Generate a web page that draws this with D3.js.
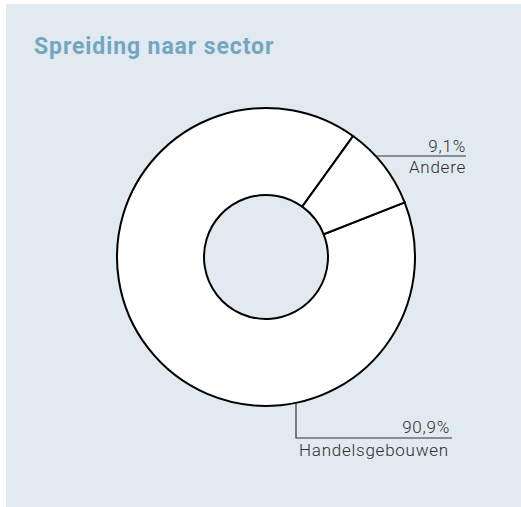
<!DOCTYPE html>
<html>
<head>
  <meta charset="utf-8">
  <script src="https://cdnjs.cloudflare.com/ajax/libs/d3/7.8.5/d3.min.js"></script>
</head>
<style media="screen">
  body { margin: 0; background: #fff; overflow: hidden; }
  svg { display: block; }
  .title { font: 700 23px Roboto, sans-serif; fill: #74a6c0; letter-spacing: 0.9px; }
  .lbl { font: 300 17px Roboto, sans-serif; fill: #2e2e2e; letter-spacing: 0.75px; }
  .slice { fill: #fff; stroke: #000; stroke-width: 2px; }
  .leader { fill: none; stroke: #333; stroke-width: 1.2px; }
</style>
<body>
<script type="text/javascript">
// data
var sectors = ["Handelsgebouwen", "Andere"];
var shares = [90.9, 9.1];
var shareLabels = ["90,9%", "9,1%"];

var W = 521, H = 507;
var cx = 266, cy = 257, rOuter = 149, rInner = 62;
var start = 68.5 * Math.PI / 180;

var svg = d3.select("body").append("svg")
    .attr("width", W)
    .attr("height", H);

// panel
svg.append("rect")
    .attr("x", 6).attr("y", 4)
    .attr("width", W - 6).attr("height", H - 4)
    .attr("fill", "#e1eaf0");

svg.append("text")
    .attr("class", "title")
    .attr("x", 34).attr("y", 54)
    .text("Spreiding naar sector");

var pie = d3.pie().sort(null)
    .startAngle(start).endAngle(start + 2 * Math.PI);
var arcs = pie(shares);

var arc = d3.arc().innerRadius(rInner).outerRadius(rOuter);

var g = svg.append("g")
    .attr("transform", "translate(" + cx + "," + cy + ")");

g.selectAll("path")
    .data(arcs)
  .enter().append("path")
    .attr("class", "slice")
    .attr("d", arc);

// leader for Andere: horizontal line leaving the outer edge
var aY = -101;
var aX0 = Math.sqrt(rOuter * rOuter - aY * aY);
var aX1 = 200;
g.append("line").attr("class", "leader")
    .attr("x1", aX0).attr("y1", aY).attr("x2", aX1).attr("y2", aY);
g.append("text").attr("class", "lbl")
    .attr("x", aX1).attr("y", aY - 4)
    .attr("text-anchor", "end")
    .text(shareLabels[1]);
g.append("text").attr("class", "lbl")
    .attr("x", aX1).attr("y", aY + 17)
    .attr("text-anchor", "end")
    .text(sectors[1]);

// leader for Handelsgebouwen: down from the bottom, then right
var hX = 30;
var hY0 = Math.sqrt(rOuter * rOuter - hX * hX);
var hY1 = 181;
var hX1 = 186;
g.append("path").attr("class", "leader")
    .attr("d", "M" + hX + "," + hY0 + "V" + hY1 + "H" + hX1);
g.append("text").attr("class", "lbl")
    .attr("x", hX1 - 2).attr("y", hY1 - 5)
    .attr("text-anchor", "end")
    .text(shareLabels[0]);
g.append("text").attr("class", "lbl")
    .attr("x", hX + 3).attr("y", hY1 + 18)
    .text(sectors[0]);
</script>
</body>
</html>
